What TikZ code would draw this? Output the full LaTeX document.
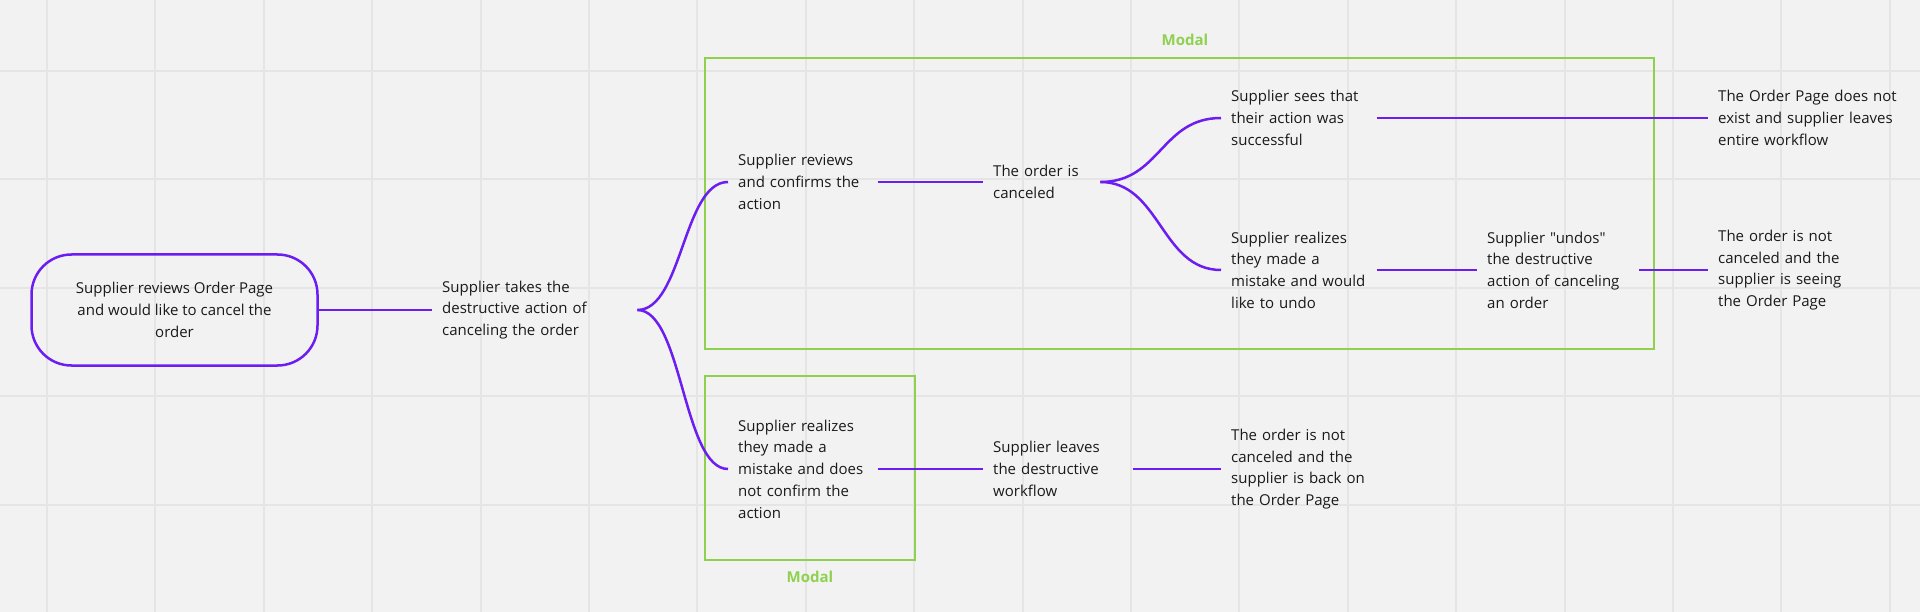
\documentclass[tikz,border=0pt]{standalone}
\usepackage{fontspec}
\setmainfont{Open Sans}[Ligatures=TeXOff]
\definecolor{bg}{HTML}{F2F2F2}
\definecolor{gridc}{HTML}{E5E5E5}
\definecolor{vio}{HTML}{6C1DF2}
\definecolor{grn}{HTML}{8FD14F}
\definecolor{ink}{HTML}{1A1A1A}
\begin{document}
\begin{tikzpicture}[x=1pt,y=-1pt,
  gridl/.style={draw=gridc,line width=2pt},
  txt/.style={anchor=west,inner xsep=10pt,inner ysep=0pt,align=left,
    font=\fontsize{15}{21.7}\selectfont,text=ink},
  link/.style={draw=vio,line width=2.5pt},
  modalbox/.style={draw=grn,line width=2.5pt,inner sep=0pt},
  modallbl/.style={font=\fontsize{15}{18}\selectfont\bfseries,text=grn,inner sep=0pt},
  startbox/.style={draw=vio,line width=2.5pt,rounded corners=40pt,
    minimum width=286pt,minimum height=111pt,align=center,
    font=\fontsize{15}{21.7}\selectfont,text=ink}
]
\useasboundingbox (0,0) rectangle (1920,612);
\fill[bg] (0,0) rectangle (1920,612);
% grid
\foreach \i in {0,...,17} \draw[gridl] ({47+108.4*\i},0) -- ({47+108.4*\i},612);
\foreach \j in {0,...,4} \draw[gridl] (0,{71+108.4*\j}) -- (1920,{71+108.4*\j});
% modals
\node[modalbox,minimum width=949pt,minimum height=291pt] (modalA) at (1179.5,203.5) {};
\node[modallbl] (lblA) at (1185,40) {Modal};
\node[modalbox,minimum width=210pt,minimum height=184pt] (modalB) at (810,468) {};
\node[modallbl] (lblB) at (810,577) {Modal};
% nodes
\node[startbox] (start) at (174.5,310) {Supplier reviews Order Page\\and would like to cancel the\\order};
\node[txt,text width=185pt] (takes) at (432,310) {Supplier takes the\\destructive action of\\canceling the order};
\node[txt,text width=130pt] (confirm) at (728,182) {Supplier reviews\\and confirms the\\action};
\node[txt,text width=97pt] (canceled) at (983,182) {The order is\\canceled};
\node[txt,text width=136pt] (sees) at (1221,118) {Supplier sees that\\their action was\\successful};
\node[txt,text width=200pt] (endA) at (1708,118) {The Order Page does not\\exist and supplier leaves\\entire workflow};
\node[txt,text width=136pt] (realize) at (1221,270) {Supplier realizes\\they made a\\mistake and would\\like to undo};
\node[txt,text width=142pt] (undo) at (1477,270) {Supplier "undos"\\the destructive\\action of canceling\\an order};
\node[txt,text width=170pt] (endB) at (1708,270) {The order is not\\canceled and the\\supplier is seeing\\the Order Page};
\node[txt,text width=130pt] (noconf) at (728,469) {Supplier realizes\\they made a\\mistake and does\\not confirm the\\action};
\node[txt,text width=130pt] (leaves) at (983,469) {Supplier leaves\\the destructive\\workflow};
\node[txt,text width=170pt] (endC) at (1221,469) {The order is not\\canceled and the\\supplier is back on\\the Order Page};
% links
\draw[link] (start.east) -- (takes.west);
\draw[link] (takes.east) .. controls +(45,0) and +(-45,0) .. (confirm.west);
\draw[link] (takes.east) .. controls +(45,0) and +(-45,0) .. (noconf.west);
\draw[link] (confirm.east) -- (canceled.west);
\draw[link] (canceled.east) .. controls +(60,0) and +(-60,0) .. (sees.west);
\draw[link] (canceled.east) .. controls +(60,0) and +(-60,0) .. (realize.west);
\draw[link] (sees.east) -- (endA.west);
\draw[link] (realize.east) -- (undo.west);
\draw[link] (undo.east) -- (endB.west);
\draw[link] (noconf.east) -- (leaves.west);
\draw[link] (leaves.east) -- (endC.west);
\end{tikzpicture}
\end{document}
